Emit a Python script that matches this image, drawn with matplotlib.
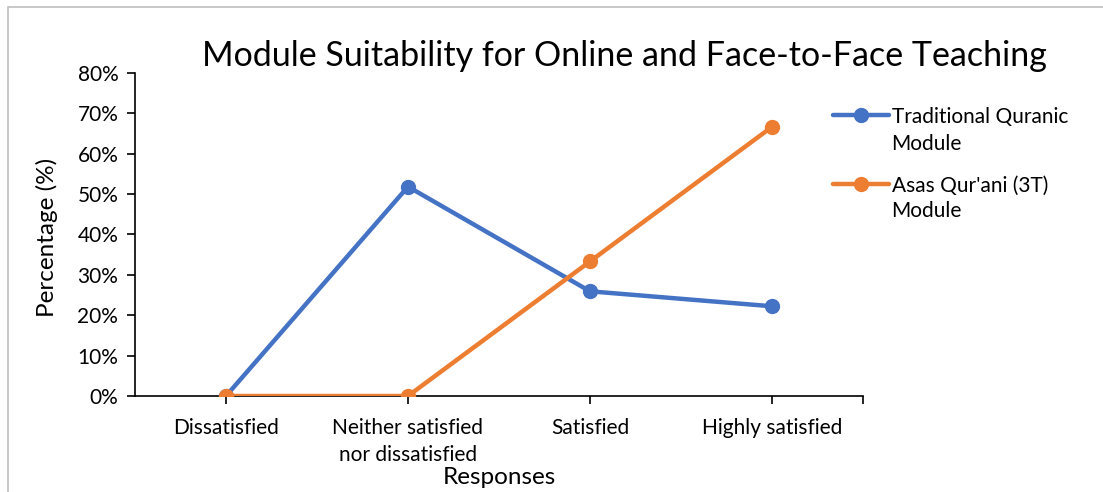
import matplotlib
matplotlib.use("Agg")
import matplotlib.pyplot as plt
from matplotlib.patches import Rectangle
from matplotlib.ticker import FuncFormatter

categories = ["Dissatisfied", "Neither satisfied\nnor dissatisfied", "Satisfied", "Highly satisfied"]
traditional = [0.0, 51.85, 25.93, 22.22]
asas = [0.0, 0.0, 33.33, 66.67]
series_first = ["Traditional Quranic", "Asas Qur'ani (3T)"]
series_second = ["Module", "Module"]
colors = ["#4472C4", "#ED7D31"]
yticks = [0, 10, 20, 30, 40, 50, 60, 70, 80]

plt.rcParams['font.family'] = ['Lato', 'DejaVu Sans']

fig = plt.figure(figsize=(11.03, 4.92), dpi=100)
ax = fig.add_axes([135/1103, 1-396/492, (863-135)/1103, (396-73)/492])

x = list(range(len(categories)))
for vals, name, c in zip([traditional, asas], series_first, colors):
    ax.plot(x, vals, color=c, lw=3.2, marker='o', ms=10, label=name,
            solid_capstyle='round')

ax.set_xlim(-0.5, 3.5)
ax.set_ylim(0, 80)
ax.set_yticks(yticks)
ax.yaxis.set_major_formatter(FuncFormatter(lambda v, p: f"{int(v)}%"))
ax.set_xticks(x)
ax.set_xticklabels(categories, fontsize=15, linespacing=1.4)
ax.set_xticks([3.5], minor=True)
ax.tick_params(axis='x', which='both', length=6, width=1.2, pad=10, direction='out')
ax.tick_params(axis='y', length=6, width=1.2, labelsize=15, pad=6)
for s in ['top', 'right']:
    ax.spines[s].set_visible(False)
for s in ['left', 'bottom']:
    ax.spines[s].set_linewidth(1.2)
ax.spines['bottom'].set_zorder(1)

fig.text(0.566, 1-66/492, "Module Suitability for Online and Face-to-Face Teaching",
         ha='center', va='baseline', fontsize=24.5)
fig.text(499/1103, 1-477/492, "Responses", ha='center', va='center', fontsize=17.5)
fig.text(47/1103, 1-237/492, "Percentage (%)", ha='center', va='center', rotation=90, fontsize=17.5)

leg = fig.legend(loc='upper left', bbox_to_anchor=(814/1103, 1-88/492), frameon=False,
                 fontsize=15, handlelength=2.7, handletextpad=0.15, labelspacing=2.35)
for i, t in enumerate(series_second):
    fig.text(891/1103, 1-(144 + 67*i)/492, t, ha='left', va='center', fontsize=15)

fig.patches.append(Rectangle((8/1103, -0.1), 1.2, 1.1 - 7/492, transform=fig.transFigure,
                             fill=False, edgecolor='#BFBFBF', lw=1.2))

fig.savefig("out.png", dpi=100)
